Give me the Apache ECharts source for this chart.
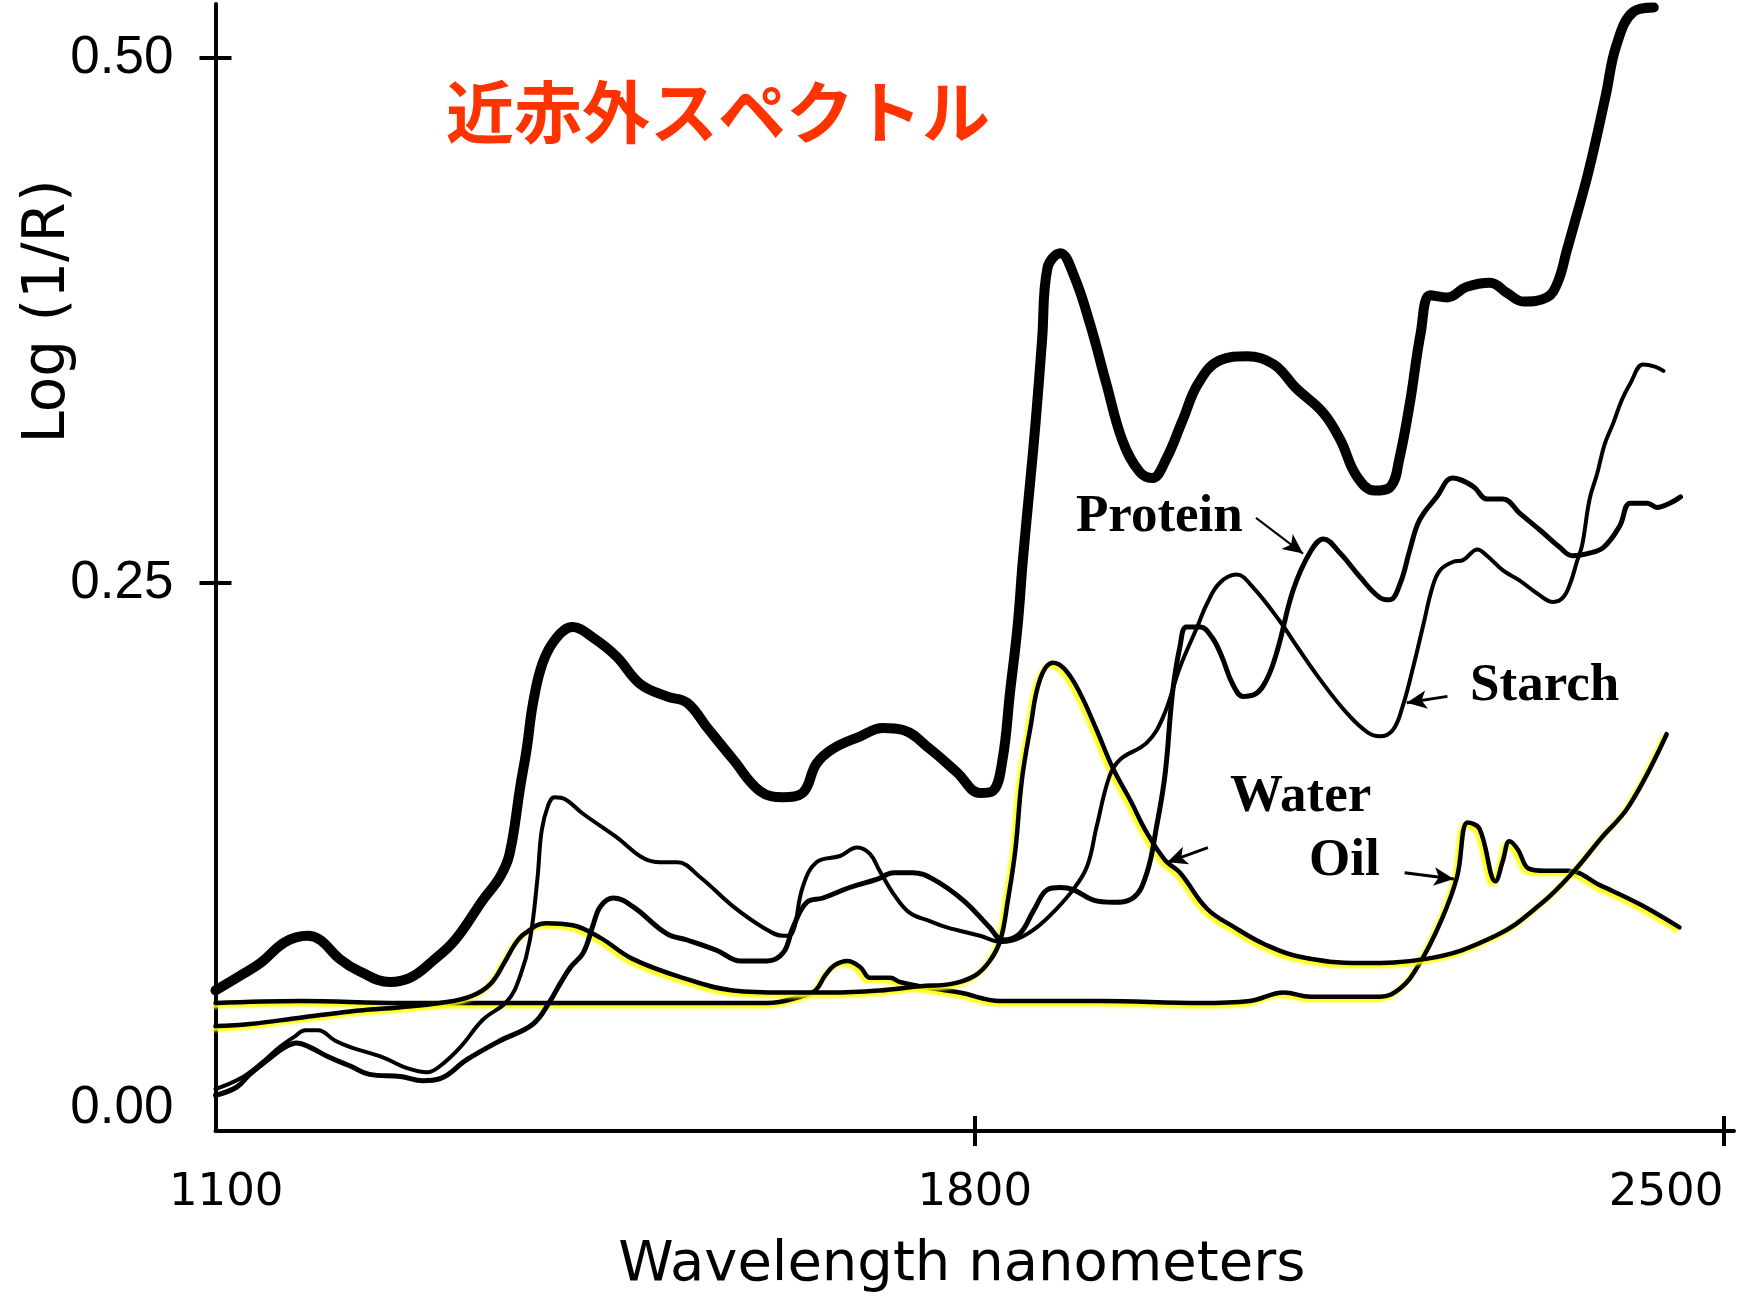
<!DOCTYPE html>
<html>
<head>
<meta charset="utf-8">
<script src="https://cdn.jsdelivr.net/npm/echarts@6/dist/echarts.min.js"></script>
<style>
html,body{margin:0;padding:0;background:#fff;}
#chart{width:1751px;height:1300px;}
</style>
</head>
<body>
<div id="chart"></div>
<script>
// ---- tick labels / tick marks ----
const xTickLabels = [1100, 1800, 2500];
const xTickMarks = [1800, 2500];
const yTickLabels = [0, 0.25, 0.5];
const yTickMarks = [0.25, 0.5];

// ---- spectra: [wavelength nm, log(1/R)] ----
const sampleSpectrum = [[1090,0.056],[1113,0.063],[1132,0.069],[1155,0.079],[1176,0.082],[1188,0.080],[1206,0.071],[1225,0.065],[1253,0.060],[1272,0.062],[1293,0.070],[1314,0.080],[1340,0.099],[1356,0.110],[1365,0.121],[1375,0.153],[1381,0.171],[1387,0.193],[1396,0.212],[1409,0.224],[1424,0.229],[1443,0.224],[1465,0.215],[1487,0.202],[1512,0.196],[1531,0.193],[1550,0.181],[1574,0.166],[1599,0.151],[1621,0.148],[1639,0.150],[1652,0.164],[1667,0.171],[1693,0.177],[1714,0.181],[1733,0.180],[1758,0.171],[1783,0.160],[1805,0.150],[1817,0.151],[1826,0.166],[1833,0.198],[1840,0.229],[1845,0.261],[1852,0.299],[1857,0.327],[1863,0.366],[1868,0.400],[1880,0.407],[1893,0.396],[1908,0.373],[1923,0.345],[1938,0.318],[1954,0.303],[1966,0.300],[1979,0.309],[1994,0.327],[2009,0.345],[2029,0.356],[2055,0.358],[2080,0.354],[2100,0.343],[2126,0.331],[2142,0.318],[2157,0.301],[2174,0.294],[2189,0.296],[2197,0.309],[2207,0.336],[2217,0.369],[2226,0.387],[2242,0.386],[2260,0.391],[2282,0.393],[2298,0.388],[2313,0.384],[2335,0.386],[2345,0.393],[2354,0.409],[2359,0.418],[2374,0.446],[2390,0.482],[2400,0.506],[2416,0.522],[2435,0.524]];

const starchSpectrum = [[1090,0.009],[1113,0.014],[1132,0.021],[1150,0.029],[1164,0.034],[1174,0.037],[1186,0.037],[1202,0.032],[1216,0.029],[1247,0.024],[1269,0.019],[1288,0.017],[1300,0.020],[1319,0.029],[1340,0.042],[1363,0.051],[1375,0.063],[1384,0.080],[1391,0.109],[1395,0.132],[1401,0.144],[1407,0.148],[1417,0.147],[1434,0.140],[1465,0.129],[1490,0.119],[1506,0.117],[1522,0.117],[1543,0.110],[1574,0.096],[1602,0.086],[1621,0.082],[1629,0.083],[1639,0.105],[1652,0.117],[1674,0.120],[1690,0.124],[1702,0.121],[1711,0.113],[1724,0.102],[1739,0.093],[1758,0.089],[1774,0.086],[1805,0.082],[1826,0.079],[1842,0.081],[1858,0.086],[1873,0.093],[1892,0.104],[1905,0.115],[1914,0.134],[1926,0.158],[1936,0.166],[1961,0.174],[1976,0.186],[1992,0.210],[2008,0.229],[2017,0.240],[2029,0.250],[2045,0.254],[2060,0.248],[2085,0.232],[2101,0.220],[2123,0.204],[2148,0.188],[2167,0.179],[2179,0.177],[2191,0.180],[2200,0.191],[2210,0.210],[2219,0.229],[2228,0.248],[2235,0.256],[2247,0.260],[2257,0.261],[2270,0.266],[2279,0.263],[2294,0.256],[2310,0.251],[2326,0.245],[2341,0.241],[2350,0.243],[2357,0.250],[2363,0.260],[2368,0.268],[2375,0.290],[2382,0.302],[2389,0.316],[2397,0.326],[2405,0.337],[2413,0.345],[2425,0.354],[2436,0.353],[2444,0.351]];

const proteinSpectrum = [[1090,0.006],[1110,0.010],[1122,0.016],[1139,0.023],[1155,0.029],[1166,0.031],[1178,0.029],[1197,0.024],[1216,0.020],[1234,0.016],[1263,0.015],[1284,0.013],[1300,0.014],[1325,0.023],[1356,0.032],[1387,0.040],[1403,0.051],[1412,0.059],[1422,0.067],[1434,0.074],[1443,0.087],[1450,0.096],[1462,0.100],[1480,0.096],[1512,0.083],[1531,0.080],[1559,0.075],[1581,0.070],[1606,0.070],[1621,0.074],[1630,0.086],[1643,0.098],[1658,0.100],[1683,0.105],[1709,0.109],[1724,0.112],[1742,0.112],[1761,0.109],[1789,0.099],[1814,0.086],[1826,0.080],[1842,0.083],[1855,0.094],[1868,0.104],[1880,0.105],[1892,0.104],[1911,0.099],[1929,0.098],[1948,0.100],[1961,0.112],[1970,0.134],[1978,0.159],[1985,0.198],[1992,0.220],[1998,0.229],[2011,0.229],[2022,0.224],[2031,0.215],[2041,0.202],[2051,0.196],[2062,0.197],[2073,0.204],[2083,0.218],[2098,0.247],[2114,0.265],[2126,0.271],[2142,0.264],[2160,0.253],[2179,0.243],[2188,0.242],[2198,0.250],[2207,0.266],[2216,0.280],[2232,0.291],[2247,0.300],[2266,0.296],[2279,0.290],[2294,0.290],[2310,0.283],[2329,0.275],[2347,0.267],[2359,0.263],[2373,0.264],[2388,0.267],[2403,0.277],[2413,0.288],[2429,0.288],[2438,0.286],[2450,0.288],[2460,0.291]];

const waterSpectrum = [[1090,0.039],[1122,0.040],[1169,0.043],[1216,0.046],[1263,0.048],[1300,0.050],[1328,0.053],[1347,0.059],[1361,0.070],[1370,0.078],[1379,0.083],[1399,0.088],[1424,0.087],[1450,0.081],[1480,0.071],[1527,0.062],[1574,0.056],[1621,0.055],[1665,0.055],[1711,0.056],[1749,0.058],[1777,0.059],[1800,0.063],[1814,0.070],[1824,0.080],[1831,0.099],[1838,0.123],[1844,0.156],[1852,0.181],[1861,0.204],[1873,0.212],[1884,0.209],[1898,0.198],[1914,0.180],[1929,0.162],[1945,0.147],[1961,0.131],[1978,0.118],[1992,0.112],[2017,0.095],[2043,0.086],[2071,0.078],[2104,0.072],[2161,0.069],[2222,0.071],[2287,0.082],[2329,0.097],[2359,0.112],[2385,0.128],[2412,0.144],[2447,0.178]];

const oilSpectrum = [[1090,0.050],[1169,0.051],[1263,0.050],[1356,0.050],[1450,0.050],[1543,0.050],[1606,0.050],[1637,0.053],[1651,0.056],[1660,0.063],[1669,0.068],[1681,0.070],[1693,0.067],[1702,0.062],[1711,0.062],[1721,0.062],[1730,0.060],[1749,0.058],[1786,0.055],[1824,0.051],[1917,0.051],[2011,0.050],[2057,0.051],[2089,0.055],[2114,0.053],[2179,0.053],[2198,0.057],[2215,0.068],[2236,0.089],[2251,0.110],[2261,0.136],[2272,0.133],[2287,0.108],[2294,0.118],[2300,0.127],[2308,0.123],[2318,0.114],[2333,0.113],[2355,0.113],[2385,0.106],[2422,0.097],[2459,0.086]];

// ---- annotation arrows (tail -> head), data units ----
const proteinArrow = [[2063,0.281],[2107,0.264]];
const starchArrow = [[2242,0.196],[2204,0.193]];
const waterArrow = [[2018,0.124],[1980,0.117]];
const oilArrow = [[2202,0.112],[2248,0.109]];

const X_MIN = 1090, X_MAX = 2510;
const Y_MIN = -0.01095, Y_MAX = 0.5257;

const black = '#000';
const tickStyle = {color: black, width: 4};

function arrowMark(pts, width) {
  return {
    silent: true,
    symbol: ['none', 'arrow'],
    symbolSize: [14, 20],
    lineStyle: {color: black, width: width, type: 'solid'},
    label: {show: false},
    emphasis: {disabled: true},
    data: [[{coord: pts[0]}, {coord: pts[1]}]]
  };
}

function spectrum(name, data, width, highlight, arrow, arrowWidth, z) {
  const ls = {color: black, width: width, cap: 'round', join: 'round'};
  if (highlight) {
    ls.shadowColor = '#ffff00';
    ls.shadowBlur = 3;
    ls.shadowOffsetX = -3;
    ls.shadowOffsetY = 3;
  }
  const s = {
    type: 'line', name: name, data: data,
    showSymbol: false, symbol: 'none',
    smooth: 0.4,
    lineStyle: ls, z: z, silent: true, animation: false
  };
  if (arrow) s.markLine = arrowMark(arrow, arrowWidth);
  return s;
}

const chart = echarts.init(document.getElementById('chart'), null, {renderer: 'canvas'});
chart.setOption({
  backgroundColor: '#fff',
  animation: false,
  title: {
    text: '近赤外スペクトル', left: 446, top: 78, padding: 0,
    textStyle: {fontSize: 68, fontWeight: 'bold', color: '#ff3300', fontFamily: 'Noto Sans CJK JP'}
  },
  grid: {left: 215.5, right: 17, top: 4, bottom: 169, containLabel: false, outerBoundsMode: 'none'},
  xAxis: [
    {
      type: 'value', min: X_MIN, max: X_MAX, position: 'bottom',
      axisLine: {show: true, onZero: false, lineStyle: {color: black, width: 4}},
      axisTick: {show: true, customValues: xTickMarks, length: 15, lineStyle: tickStyle},
      axisLabel: {show: true, customValues: xTickLabels, formatter: v => String(Math.round(v)),
        margin: 40, fontSize: 45, fontFamily: 'DejaVu Sans', color: black, alignMaxLabel: 'right'},
      splitLine: {show: false},
      name: 'Wavelength nanometers', nameLocation: 'middle', nameGap: 106,
      nameTextStyle: {fontSize: 56, fontFamily: 'DejaVu Sans', color: black, padding: [0, 26, 0, 0]}
    },
    {
      type: 'value', min: X_MIN, max: X_MAX, position: 'bottom',
      axisLine: {show: false, onZero: false},
      axisTick: {show: true, inside: true, customValues: xTickMarks, length: 15, lineStyle: tickStyle},
      axisLabel: {show: false}, splitLine: {show: false}
    }
  ],
  yAxis: [
    {
      type: 'value', min: Y_MIN, max: Y_MAX, position: 'left',
      axisLine: {show: true, onZero: false, lineStyle: {color: black, width: 4}},
      axisTick: {show: true, customValues: yTickMarks, length: 16, lineStyle: tickStyle},
      axisLabel: {show: true, customValues: yTickLabels, formatter: v => Number(v).toFixed(2),
        margin: 42, fontSize: 53, fontFamily: 'Liberation Sans', color: black},
      splitLine: {show: false},
      name: 'Log (1/R)', nameLocation: 'middle', nameGap: 138, nameMoveOverlap: false,
      nameTextStyle: {fontSize: 58, fontFamily: 'DejaVu Sans', color: black, padding: [0, 0, 0, 512]}
    },
    {
      type: 'value', min: Y_MIN, max: Y_MAX, position: 'left',
      axisLine: {show: false, onZero: false},
      axisTick: {show: true, inside: true, customValues: yTickMarks, length: 16, lineStyle: tickStyle},
      axisLabel: {show: false}, splitLine: {show: false}
    }
  ],
  series: [
    spectrum('Oil', oilSpectrum, 4.5, true, oilArrow, 3, 2),
    spectrum('Water', waterSpectrum, 4.5, true, waterArrow, 3, 3),
    spectrum('Starch', starchSpectrum, 4, false, starchArrow, 3, 4),
    spectrum('Protein', proteinSpectrum, 5, false, proteinArrow, 2, 5),
    spectrum('Sample', sampleSpectrum, 10, false, null, 0, 6)
  ],
  graphic: [
    {type: 'text', x: 1076, y: 517, silent: true,
      style: {text: 'Protein', font: 'bold 53px "Liberation Serif"', fill: black, verticalAlign: 'middle', align: 'left'}},
    {type: 'text', x: 1470, y: 686, silent: true,
      style: {text: 'Starch', font: 'bold 53px "Liberation Serif"', fill: black, verticalAlign: 'middle', align: 'left'}},
    {type: 'text', x: 1230, y: 797, silent: true,
      style: {text: 'Water', font: 'bold 53px "Liberation Serif"', fill: black, verticalAlign: 'middle', align: 'left'}},
    {type: 'text', x: 1309, y: 861, silent: true,
      style: {text: 'Oil', font: 'bold 53px "Liberation Serif"', fill: black, verticalAlign: 'middle', align: 'left'}}
  ]
});
</script>
</body>
</html>
